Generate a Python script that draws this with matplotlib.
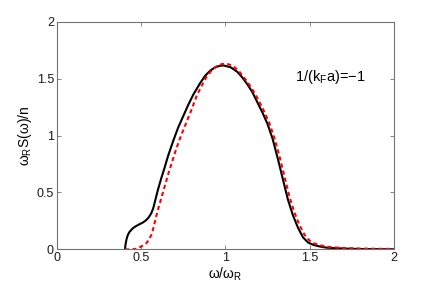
import matplotlib
matplotlib.use("Agg")
import matplotlib.pyplot as plt

omega_solid = [0.405, 0.407, 0.41, 0.415, 0.422, 0.43, 0.442, 0.455, 0.472, 0.49,
               0.511, 0.53, 0.545, 0.561, 0.572, 0.58, 0.59, 0.60, 0.62, 0.636,
               0.66, 0.69, 0.72, 0.75, 0.78, 0.81, 0.85, 0.88, 0.91, 0.94, 0.97,
               0.99, 1.03, 1.07, 1.10, 1.13, 1.16, 1.19, 1.22, 1.25, 1.28, 1.31,
               1.34, 1.37, 1.40, 1.43, 1.46, 1.49, 1.52, 1.56, 1.60, 1.70, 1.80,
               2.00]
s_solid = [0.0, 0.03, 0.06, 0.095, 0.127, 0.15, 0.171, 0.19, 0.206, 0.22,
           0.236, 0.256, 0.28, 0.318, 0.36, 0.406, 0.465, 0.523, 0.626, 0.70,
           0.82, 0.95, 1.07, 1.17, 1.27, 1.36, 1.46, 1.525, 1.57, 1.60, 1.613,
           1.615, 1.60, 1.56, 1.51, 1.45, 1.38, 1.29, 1.20, 1.10, 0.97, 0.80,
           0.62, 0.44, 0.30, 0.19, 0.105, 0.06, 0.04, 0.025, 0.015, 0.007, 0.003,
           0.001]

omega_dashed = [0.405, 0.45, 0.47, 0.492, 0.51, 0.531, 0.547, 0.561, 0.571, 0.58,
                0.59, 0.60, 0.62, 0.64, 0.66, 0.68, 0.70, 0.72, 0.74, 0.77, 0.80,
                0.83, 0.86, 0.89, 0.92, 0.95, 0.98, 1.00, 1.02, 1.05, 1.08, 1.11,
                1.14, 1.17, 1.20, 1.23, 1.26, 1.29, 1.32, 1.35, 1.38, 1.41, 1.44,
                1.47, 1.50, 1.53, 1.57, 1.62, 1.70, 1.80, 1.90, 2.00]
s_dashed = [0.0, 0.0, 0.005, 0.019, 0.033, 0.054, 0.085, 0.127, 0.175, 0.23,
            0.29, 0.347, 0.45, 0.552, 0.655, 0.75, 0.845, 0.93, 1.01, 1.12, 1.23,
            1.35, 1.44, 1.52, 1.575, 1.61, 1.628, 1.63, 1.625, 1.605, 1.565, 1.51,
            1.45, 1.38, 1.30, 1.21, 1.11, 0.98, 0.82, 0.64, 0.46, 0.32, 0.21,
            0.125, 0.075, 0.05, 0.033, 0.02, 0.012, 0.007, 0.005, 0.004]

x_ticks = [0, 0.5, 1, 1.5, 2]
y_ticks = [0, 0.5, 1, 1.5, 2]
x_tick_labels = ["0", "0.5", "1", "1.5", "2"]
y_tick_labels = ["0", "0.5", "1", "1.5", "2"]

plt.rcParams["font.family"] = ["Liberation Sans", "DejaVu Sans"]
plt.rcParams["mathtext.fontset"] = "custom"
plt.rcParams["mathtext.rm"] = "Liberation Sans"

fig = plt.figure(figsize=(4.36, 2.85), dpi=100)
ax = fig.add_axes([0.130, 0.125, 0.774, 0.799])

ax.plot(omega_solid, s_solid, color="black", lw=1.5)
ax.plot(omega_dashed, s_dashed, color="#ff0000", lw=1.5, ls=(0, (2, 1.5)))

ax.set_xlim(0, 2)
ax.set_ylim(0, 2)
ax.set_xticks(x_ticks)
ax.set_xticklabels(x_tick_labels)
ax.set_yticks(y_ticks)
ax.set_yticklabels(y_tick_labels)
ax.tick_params(direction="in", length=3, width=0.6, colors="0.45",
               labelcolor="0.1", labelsize=9, top=True, right=True, pad=2)
for spine in ax.spines.values():
    spine.set_color("0.45")
    spine.set_linewidth(0.8)

ax.set_xlabel("ω/ω$_\\mathregular{R}$", fontsize=10, labelpad=1)
ax.set_ylabel("ω$_\\mathregular{R}$S(ω)/n", fontsize=10, labelpad=2)
ax.text(1.41, 1.475, "1/(k$_\\mathregular{F}$a)=\u22121", fontsize=10.5)

fig.savefig("out.png", dpi=100)
